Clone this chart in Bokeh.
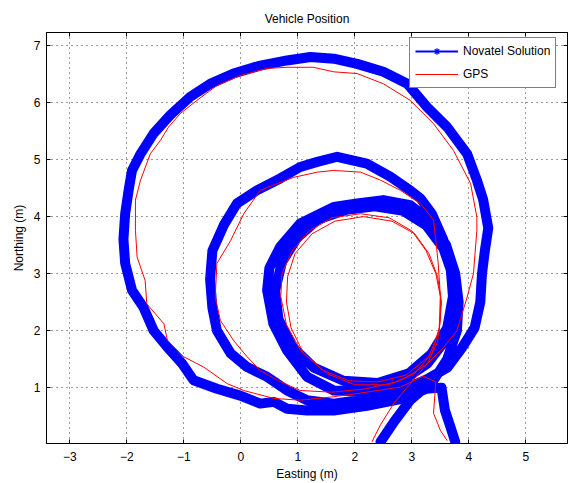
from bokeh.plotting import figure
from bokeh.models import Range1d, Legend, LegendItem, LinearAxis, FixedTicker, CustomJSTickFormatter
from bokeh.embed import file_html
from bokeh.resources import INLINE

# Novatel solution (Easting, Northing) in metres
novatel_east = [2.45, 2.7, 2.97, 3.38, 3.62, 3.79, 3.82, 3.76, 3.6, 3.3, 2.97, 2.5, 2.04, 1.63, 1.04, 0.69, 0.5, 0.46, 0.57, 0.81,
                1.16, 1.63, 2.21, 2.8, 3.27, 3.6, 3.76, 3.74, 3.55, 3.25, 2.85, 2.35, 1.85, 1.35, 0.98, 0.72, 0.6, 0.66, 0.9, 1.28,
                1.8, 2.4, 2.95, 3.35, 3.62, 3.72, 3.68, 3.55, 3.35, 3.15, 2.97, 2.62, 2.21, 1.69, 1.34, 1.04, 0.69, 0.28, -0.07, -0.3,
                -0.5, -0.54, -0.5, -0.42, -0.18, 0.11, 0.46, 0.81, 1.16, 1.63, 2.21, 2.8, 3.27, 3.62, 3.88, 4.1, 4.2, 4.23, 4.28, 4.34,
                4.25, 4.14, 3.97, 3.62, 3.27, 2.92, 2.5, 2.04, 1.63, 1.22, 0.81, 0.34, -0.13, -0.54, -0.89, -1.24, -1.53, -1.76, -1.91, -1.97,
                -2.03, -2.06, -2.03, -1.91, -1.71, -1.53, -1.29, -1.03, -0.83, -0.42, -0.01, 0.34, 0.58, 0.81, 1.16, 1.63, 2.21, 2.8, 3.25, 3.52,
                3.58, 3.68, 3.76]
novatel_north = [0.05, 0.42, 0.78, 1.13, 1.5, 2.0, 2.5, 3.0, 3.5, 3.95, 4.2, 4.29, 4.23, 4.17, 3.88, 3.47, 3.1, 2.71, 2.12, 1.65,
                 1.19, 0.95, 0.93, 1.1, 1.42, 1.85, 2.3, 2.9, 3.45, 3.85, 4.1, 4.18, 4.12, 3.95, 3.62, 3.2, 2.7, 2.2, 1.72, 1.35,
                 1.12, 1.08, 1.25, 1.6, 2.05, 2.6, 3.1, 3.6, 4.05, 4.32, 4.46, 4.7, 4.93, 5.05, 4.96, 4.87, 4.67, 4.46, 4.23, 3.85,
                 3.4, 2.9, 2.4, 2.0, 1.6, 1.36, 1.19, 0.95, 0.78, 0.72, 0.8, 0.95, 1.15, 1.35, 1.7, 2.05, 2.5, 3.0, 3.4, 3.8,
                 4.3, 4.64, 5.1, 5.57, 5.92, 6.33, 6.54, 6.68, 6.77, 6.8, 6.74, 6.65, 6.51, 6.33, 6.1, 5.78, 5.46, 5.1, 4.81, 4.46,
                 4.05, 3.6, 3.18, 2.71, 2.41, 2.0, 1.71, 1.42, 1.13, 0.98, 0.86, 0.72, 0.75, 0.63, 0.6, 0.6, 0.68, 0.8, 0.98, 1.0,
                 0.6, 0.3, 0.05]

# GPS (Easting, Northing) in metres
gps_east = [2.3, 2.45, 2.68, 2.97, 3.27, 3.45, 3.5, 3.5, 3.42, 3.25, 3.0, 2.6, 2.1, 1.6, 1.2, 0.9, 0.72, 0.7, 0.8, 1.05,
            1.45, 1.9, 2.4, 2.9, 3.3, 3.48, 3.52, 3.45, 3.3, 3.05, 2.65, 2.15, 1.65, 1.25, 0.95, 0.82, 0.8, 0.88, 1.1, 1.5,
            2.0, 2.6, 3.05, 3.35, 3.48, 3.5, 3.46, 3.42, 3.38, 3.15, 2.8, 2.45, 2.1, 1.63, 1.34, 0.93, 0.64, 0.34, 0.05, -0.18,
            -0.42, -0.45, -0.36, -0.13, 0.11, 0.34, 0.64, 1.04, 1.6, 2.2, 2.8, 3.25, 3.55, 3.79, 3.97, 4.08, 4.14, 4.14, 4.03, 3.73,
            3.38, 2.97, 2.5, 2.04, 1.63, 1.27, 0.81, 0.46, 0.0, -0.42, -0.77, -1.06, -1.27, -1.41, -1.59, -1.76, -1.85, -1.85, -1.82, -1.68,
            -1.65, -1.35, -1.29, -1.0, -0.65, -0.24, 0.05, 0.58, 1.04, 1.63, 2.2, 2.8, 3.2, 3.42, 3.38, 3.5, 3.62]
gps_north = [0.05, 0.35, 0.72, 1.07, 1.42, 1.8, 2.2, 2.6, 3.0, 3.4, 3.75, 3.98, 4.05, 3.98, 3.75, 3.4, 3.0, 2.6, 2.1, 1.65,
             1.3, 1.12, 1.1, 1.22, 1.55, 2.0, 2.5, 2.95, 3.35, 3.7, 3.92, 4.0, 3.92, 3.7, 3.35, 2.95, 2.5, 2.05, 1.6, 1.25,
             1.05, 1.05, 1.25, 1.6, 2.05, 2.6, 3.2, 3.58, 3.94, 4.23, 4.46, 4.64, 4.78, 4.81, 4.78, 4.69, 4.58, 4.46, 4.05, 3.58,
             3.18, 2.59, 2.18, 1.83, 1.54, 1.3, 1.13, 0.95, 0.92, 0.98, 1.12, 1.4, 1.7, 2.0, 2.59, 3.0, 3.76, 3.99, 4.58, 5.16,
             5.63, 6.04, 6.33, 6.51, 6.54, 6.62, 6.62, 6.6, 6.48, 6.3, 6.04, 5.81, 5.57, 5.34, 5.1, 4.64, 4.29, 3.76, 3.29, 2.88,
             2.47, 2.12, 1.83, 1.54, 1.36, 1.07, 0.95, 0.81, 0.78, 0.84, 0.92, 1.01, 1.2, 1.1, 0.55, 0.25, 0.07]

x_ticks = [-3, -2, -1, 0, 1, 2, 3, 4, 5]
y_ticks = [1, 2, 3, 4, 5, 6, 7]

FONT = "Liberation Sans"

p = figure(width=568, height=483, output_backend="svg", toolbar_location=None,
           x_range=Range1d(-3.41, 5.73), y_range=Range1d(0.02, 7.23),
           min_border_left=46, min_border_right=1, min_border_top=32, min_border_bottom=40,
           title="Vehicle Position")
p.title.align = "center"
p.title.text_font = FONT
p.title.text_font_size = "12px"
p.title.text_font_style = "normal"
p.title.text_color = "black"
p.title.standoff = 14

p.outline_line_color = "black"
p.outline_line_width = 1
p.background_fill_color = "white"
p.border_fill_color = "white"

xax = p.below[0]
yax = p.left[0]
for ax in (xax, yax):
    ax.major_label_text_font = FONT
    ax.major_label_text_font_size = "12px"
    ax.major_label_text_color = "black"
    ax.axis_label_text_font = FONT
    ax.axis_label_text_font_size = "12px"
    ax.axis_label_text_font_style = "normal"
    ax.axis_label_text_color = "black"
    ax.major_tick_in = 4
    ax.major_tick_out = 0
    ax.minor_tick_in = 0
    ax.minor_tick_out = 0
    ax.axis_line_color = "black"
    ax.major_tick_line_color = "black"

xax.ticker = FixedTicker(ticks=x_ticks)
yax.ticker = FixedTicker(ticks=y_ticks)
xax.axis_label = "Easting (m)"
yax.axis_label = "Northing (m)"
xax.major_label_standoff = 8
xax.axis_label_standoff = 3
yax.major_label_standoff = 6
yax.axis_label_standoff = 5

xgrid = p.xgrid[0]
ygrid = p.ygrid[0]
xgrid.ticker = FixedTicker(ticks=x_ticks)
ygrid.ticker = FixedTicker(ticks=y_ticks)
for g in (xgrid, ygrid):
    g.grid_line_color = "#222222"
    g.grid_line_alpha = 0.9
    g.grid_line_dash = "1 4"
    g.grid_line_width = 1

blank = CustomJSTickFormatter(code="return ''")
top_axis = LinearAxis(ticker=FixedTicker(ticks=x_ticks), formatter=blank,
                      major_label_standoff=0, major_tick_in=4, major_tick_out=0,
                      minor_tick_in=0, minor_tick_out=0, major_label_text_font_size="1px")
right_axis = LinearAxis(ticker=FixedTicker(ticks=y_ticks), formatter=blank,
                        major_label_standoff=0, major_tick_in=4, major_tick_out=0,
                        minor_tick_in=0, minor_tick_out=0, major_label_text_font_size="1px")
p.add_layout(top_axis, "above")
p.add_layout(right_axis, "right")

# Novatel thick trace
p.line(novatel_east, novatel_north, line_color="#0000FF", line_width=10,
       line_join="round", line_cap="round")
nov_line = p.line(novatel_east, novatel_north, line_color="#0000FF", line_width=2)
nov_star = p.scatter(novatel_east, novatel_north, marker="asterisk", size=7,
                     line_color="#0000FF", line_width=1.2)
gps_line = p.line(gps_east, gps_north, line_color="#FF0000", line_width=1)

legend = Legend(items=[LegendItem(label="Novatel Solution", renderers=[nov_line, nov_star]),
                       LegendItem(label="GPS", renderers=[gps_line])],
                location=(363, 355))
legend.label_text_font = FONT
legend.label_text_font_size = "12px"
legend.label_text_color = "black"
legend.glyph_width = 43
legend.glyph_height = 16
legend.label_height = 16
legend.label_standoff = 5
legend.padding = 5
legend.spacing = 7
legend.margin = 0
legend.border_line_color = "black"
legend.border_line_width = 1
legend.background_fill_alpha = 1
p.add_layout(legend, "center")

open("out.html", "w").write(file_html(p, INLINE))
